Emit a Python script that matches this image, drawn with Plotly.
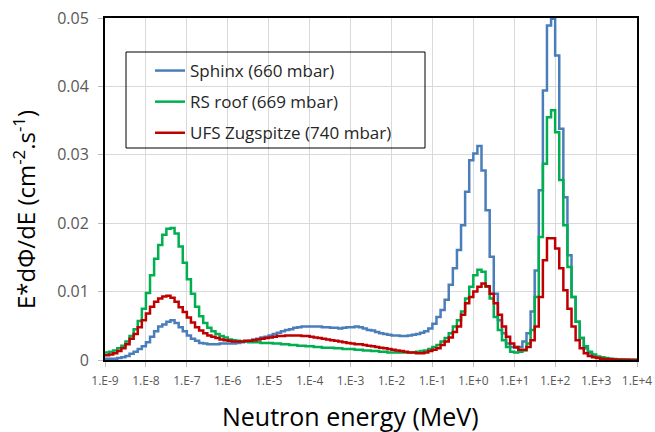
import numpy as np
import plotly.graph_objects as go

# Energy grid: 10 log bins per decade from 1E-9 to 1E+4 MeV
energy_edges = np.logspace(-9, 4, 131)

sphinx = [
    0.0002, 0.0002, 0.0002, 0.0003, 0.0004, 0.0006, 0.0009, 0.0012, 0.0016, 0.0020,
    0.0026, 0.0034, 0.0042, 0.0049, 0.0052, 0.0056, 0.0058, 0.0054, 0.0048, 0.0042,
    0.0036, 0.0031, 0.0028, 0.0025, 0.0024, 0.0023, 0.0023, 0.0023, 0.0024, 0.0024,
    0.0024, 0.0024, 0.0025, 0.0026, 0.0027, 0.0028, 0.0030, 0.0031, 0.0033, 0.0034,
    0.0036, 0.0038, 0.0040, 0.0042, 0.0044, 0.0045, 0.0047, 0.0048, 0.0049, 0.0049,
    0.0049, 0.0049, 0.0049, 0.0048, 0.0048, 0.0047, 0.0047, 0.0046, 0.0047, 0.0048,
    0.0048, 0.0049, 0.0048, 0.0046, 0.0044, 0.0043, 0.0041, 0.0039, 0.0038, 0.0037,
    0.0036, 0.0036, 0.0035, 0.0035, 0.0036, 0.0037, 0.0038, 0.0040, 0.0042, 0.0046,
    0.0053, 0.0063, 0.0073, 0.0088, 0.0110, 0.0134, 0.0161, 0.0197, 0.0246, 0.0292,
    0.0302, 0.0313, 0.0277, 0.0219, 0.0151, 0.0097, 0.0058, 0.0039, 0.0024, 0.0019,
    0.0018, 0.0019, 0.0027, 0.0039, 0.0071, 0.0131, 0.0248, 0.0394, 0.0489, 0.0499,
    0.0445, 0.0338, 0.0238, 0.0153, 0.0092, 0.0056, 0.0032, 0.0017, 0.0010, 0.0006,
    0.0004, 0.0003, 0.0002, 0.00015, 0.0001, 0.00007, 0.00005, 0.00003, 0.00002, 0.00001,
]

rs_roof = [
    0.0011, 0.0012, 0.0014, 0.0017, 0.0021, 0.0027, 0.0035, 0.0045, 0.0057, 0.0075,
    0.0098, 0.0124, 0.0148, 0.0168, 0.0183, 0.0192, 0.0193, 0.0185, 0.0166, 0.0142,
    0.0118, 0.0097, 0.0078, 0.0064, 0.0054, 0.0047, 0.0042, 0.0038, 0.0035, 0.0033,
    0.0030, 0.0029, 0.0028, 0.0027, 0.0027, 0.0026, 0.0026, 0.0026, 0.0025, 0.0025,
    0.0025, 0.0024, 0.0024, 0.0023, 0.0023, 0.0022, 0.0022, 0.0021, 0.0021, 0.0020,
    0.0020, 0.0019, 0.0019, 0.0018, 0.0018, 0.0018, 0.0017, 0.0017, 0.0016, 0.0016,
    0.0016, 0.0015, 0.0015, 0.0014, 0.0014, 0.0013, 0.0013, 0.0012, 0.0012, 0.0011,
    0.0011, 0.0011, 0.0011, 0.0011, 0.0011, 0.0011, 0.0012, 0.0013, 0.0014, 0.0016,
    0.0019, 0.0022, 0.0027, 0.0032, 0.0039, 0.0049, 0.0058, 0.0071, 0.0090, 0.0107,
    0.0124, 0.0132, 0.0129, 0.0107, 0.0090, 0.0063, 0.0044, 0.0029, 0.0019, 0.0012,
    0.0011, 0.0012, 0.0014, 0.0024, 0.0044, 0.0092, 0.0180, 0.0287, 0.0355, 0.0365,
    0.0333, 0.0263, 0.0197, 0.0136, 0.0092, 0.0056, 0.0032, 0.0020, 0.0012, 0.0008,
    0.0005, 0.0004, 0.0003, 0.0002, 0.00015, 0.0001, 0.00007, 0.00005, 0.00003, 0.00002,
]

ufs_zugspitze = [
    0.0007, 0.0008, 0.0010, 0.0013, 0.0017, 0.0023, 0.0031, 0.0038, 0.0048, 0.0058,
    0.0068, 0.0078, 0.0085, 0.0090, 0.0093, 0.0094, 0.0091, 0.0085, 0.0077, 0.0070,
    0.0062, 0.0055, 0.0048, 0.0043, 0.0039, 0.0036, 0.0034, 0.0032, 0.0030, 0.0029,
    0.0028, 0.0027, 0.0027, 0.0027, 0.0028, 0.0028, 0.0029, 0.0030, 0.0031, 0.0032,
    0.0033, 0.0034, 0.0035, 0.0035, 0.0036, 0.0036, 0.0036, 0.0036, 0.0035, 0.0035,
    0.0034, 0.0033, 0.0032, 0.0031, 0.0030, 0.0029, 0.0028, 0.0027, 0.0026, 0.0025,
    0.0024, 0.0023, 0.0023, 0.0022, 0.0021, 0.0020, 0.0019, 0.0018, 0.0017, 0.0016,
    0.0015, 0.0014, 0.0013, 0.0012, 0.0011, 0.0011, 0.0010, 0.0010, 0.0011, 0.0013,
    0.0015, 0.0017, 0.0022, 0.0027, 0.0033, 0.0041, 0.0049, 0.0066, 0.0083, 0.0092,
    0.0100, 0.0107, 0.0112, 0.0108, 0.0097, 0.0083, 0.0066, 0.0049, 0.0034, 0.0024,
    0.0019, 0.0015, 0.0015, 0.0019, 0.0029, 0.0049, 0.0092, 0.0146, 0.0178, 0.0178,
    0.0163, 0.0134, 0.0102, 0.0075, 0.0049, 0.0029, 0.0017, 0.0010, 0.0006, 0.0004,
    0.0003, 0.0002, 0.00015, 0.0001, 0.00007, 0.00005, 0.00003, 0.00002, 0.00001, 0.00001,
]

series_names = ["Sphinx (660 mbar)", "RS roof (669 mbar)", "UFS Zugspitze (740 mbar)"]
series_colors = ["#4a7ebb", "#00b050", "#c00000"]

x_tick_vals = [1e-9, 1e-8, 1e-7, 1e-6, 1e-5, 1e-4, 1e-3, 1e-2, 1e-1, 1e0, 1e1, 1e2, 1e3, 1e4]
x_tick_text = ["1.E-9", "1.E-8", "1.E-7", "1.E-6", "1.E-5", "1.E-4", "1.E-3", "1.E-2",
               "1.E-1", "1.E+0", "1.E+1", "1.E+2", "1.E+3", "1.E+4"]
y_tick_vals = [0, 0.01, 0.02, 0.03, 0.04, 0.05]
y_tick_text = ["0", "0.01", "0.02", "0.03", "0.04", "0.05"]

FONT = "Open Sans"

fig = go.Figure()
for name, vals, col in zip(series_names, [sphinx, rs_roof, ufs_zugspitze], series_colors):
    xs = list(energy_edges[:-1]) + [energy_edges[-1]]
    ys = list(vals) + [vals[-1]]
    fig.add_trace(go.Scatter(
        x=xs, y=ys, mode="lines", name=name, legendgroup=name,
        line=dict(color=col, width=2.5, shape="hv"),
    ))

L, R, T, B = 105, 18, 18, 72
W, H = 655, 432
pw = W - L - R
ph = H - T - B

def px_x(px):
    return (px - L) / pw

def px_y(py):
    return (H - B - py) / ph

fig.update_layout(
    width=W, height=H,
    margin=dict(l=L, r=R, t=T, b=B, autoexpand=False),
    paper_bgcolor="white", plot_bgcolor="white",
    font=dict(family=FONT, color="#595959"),
    showlegend=True,
    legend=dict(
        x=px_x(150), y=px_y(53), xanchor="left", yanchor="top",
        bgcolor="rgba(0,0,0,0)", borderwidth=0,
        font=dict(family=FONT, size=17, color="#262626"),
        tracegroupgap=6, itemwidth=30,
    ),
    shapes=[dict(
        type="rect", xref="paper", yref="paper",
        x0=px_x(126), x1=px_x(425), y0=px_y(148), y1=px_y(52),
        line=dict(color="black", width=1), fillcolor="rgba(0,0,0,0)", layer="above",
    )],
    annotations=[
        dict(text="E*dΦ/dE (cm<sup>-2</sup>.s<sup>-1</sup>)", xref="paper", yref="paper",
             x=px_x(24), y=px_y(210), xanchor="center", yanchor="middle",
             textangle=-90, showarrow=False,
             font=dict(family=FONT, size=24, color="black")),
        dict(text="Neutron energy (MeV)", xref="paper", yref="paper",
             x=px_x(350), y=px_y(416), xanchor="center", yanchor="middle",
             showarrow=False, font=dict(family=FONT, size=25, color="black")),
    ],
)

fig.update_xaxes(
    type="log", range=[-9, 4],
    tickvals=x_tick_vals, ticktext=x_tick_text,
    tickfont=dict(size=12, color="#595959"),
    showgrid=True, gridcolor="#d9d9d9", gridwidth=1,
    ticks="outside", ticklen=5, tickcolor="#bfbfbf",
    ticklabelstandoff=4,
    showline=True, linecolor="black", linewidth=2, mirror=True,
    zeroline=False,
)
fig.update_yaxes(
    range=[0, 0.05],
    tickvals=y_tick_vals, ticktext=y_tick_text,
    tickfont=dict(size=16, color="#595959"),
    showgrid=True, gridcolor="#d9d9d9", gridwidth=1,
    ticks="outside", ticklen=5, tickcolor="#bfbfbf",
    ticklabelstandoff=6,
    showline=True, linecolor="black", linewidth=2, mirror=True,
    zeroline=False,
)

fig.write_html("out.html", config={"displayModeBar": False},
               post_script="document.body.style.margin='0px';")
